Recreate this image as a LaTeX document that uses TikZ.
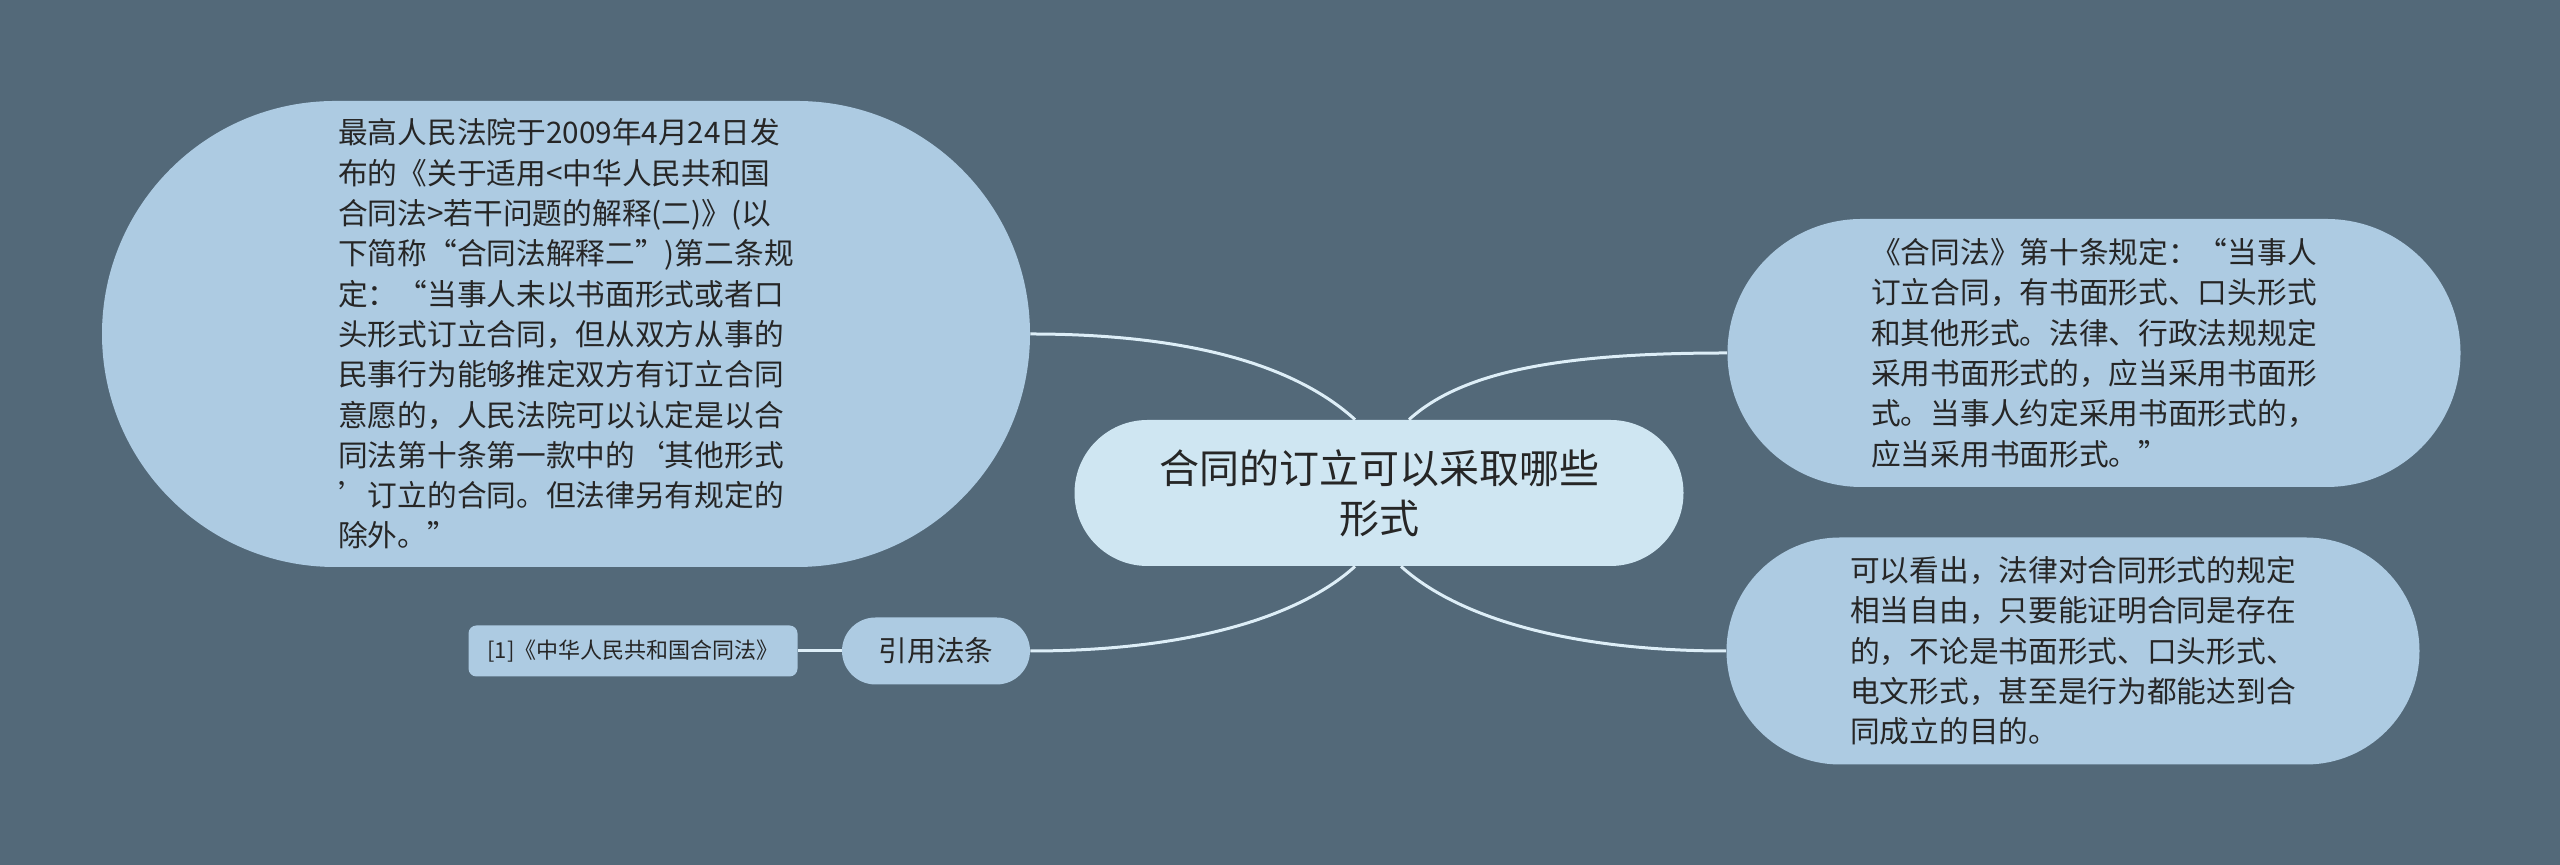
\documentclass[tikz,border=0pt]{standalone}
\usepackage{fontspec}
\newfontfamily\cjk{Noto Sans CJK SC}
\usetikzlibrary{shapes.misc}
\definecolor{bgslate}{HTML}{536979}
\definecolor{leafblue}{HTML}{ADCBE2}
\definecolor{rootblue}{HTML}{CFE6F2}
\definecolor{inkgray}{HTML}{262626}
\definecolor{linkwhite}{HTML}{DDEEF7}
\begin{document}
\begin{tikzpicture}[x=0.5pt, y=0.5pt,
    leaf/.style={rounded rectangle, fill=leafblue, text=inkgray, inner sep=0pt,
      align=left, font=\cjk\fontsize{14.85}{20.15}\selectfont},
    root/.style={rounded rectangle, fill=rootblue, text=inkgray, inner sep=0pt,
      align=center, font=\cjk\fontsize{20}{25}\selectfont},
    tag/.style={rectangle, rounded corners=4pt, fill=leafblue, text=inkgray,
      inner sep=0pt, font=\cjk\fontsize{11}{13}\selectfont},
    link/.style={draw=linkwhite, line width=1.5pt}]
  \fill[bgslate] (0,0) rectangle (2560,865);

  \node[root, minimum width=304.5pt, minimum height=73pt] (c) at (1379,372)
    {合同的订立可以采取哪些\\形式};

  \node[leaf, minimum width=464pt, minimum height=233pt] (interp) at (566,531)
    {最高人民法院于2009年4月24日发\\
     布的《关于适用<中华人民共和国\\
     合同法>若干问题的解释(二)》(以\\
     下简称“合同法解释二”)第二条规\\
     定：“当事人未以书面形式或者口\\
     头形式订立合同，但从双方从事的\\
     民事行为能够推定双方有订立合同\\
     意愿的，人民法院可以认定是以合\\
     同法第十条第一款中的‘其他形式\\
     ’订立的合同。但法律另有规定的\\
     除外。”};

  \node[leaf, minimum width=366.5pt, minimum height=134pt] (art10) at (2094,512)
    {《合同法》第十条规定：“当事人\\
     订立合同，有书面形式、口头形式\\
     和其他形式。法律、行政法规规定\\
     采用书面形式的，应当采用书面形\\
     式。当事人约定采用书面形式的，\\
     应当采用书面形式。”};

  \node[leaf, minimum width=346.5pt, minimum height=113.5pt] (free) at (2073,214)
    {可以看出，法律对合同形式的规定\\
     相当自由，只要能证明合同是存在\\
     的，不论是书面形式、口头形式、\\
     电文形式，甚至是行为都能达到合\\
     同成立的目的。};

  \node[leaf, minimum width=94pt, minimum height=33.5pt,
    font=\cjk\fontsize{14.3}{16}\selectfont] (law) at (936,214) {引用法条};
  \node[tag, minimum width=164.5pt, minimum height=25.5pt] (ref) at (633,214)
    {[1]《中华人民共和国合同法》};

  \draw[link] ([xshift=-12pt]c.north) .. controls +(-55,50) and +(170,0) .. (interp.east);
  \draw[link] ([xshift=15pt]c.north) .. controls +(55,50) and +(-160,0) .. (art10.west);
  \draw[link] ([xshift=11pt]c.south) .. controls +(55,-50) and +(-160,0) .. (free.west);
  \draw[link] ([xshift=-12pt]c.south) .. controls +(-55,-50) and +(160,0) .. (law.east);
  \draw[link] (law.west) -- (ref.east);
\end{tikzpicture}
\end{document}
